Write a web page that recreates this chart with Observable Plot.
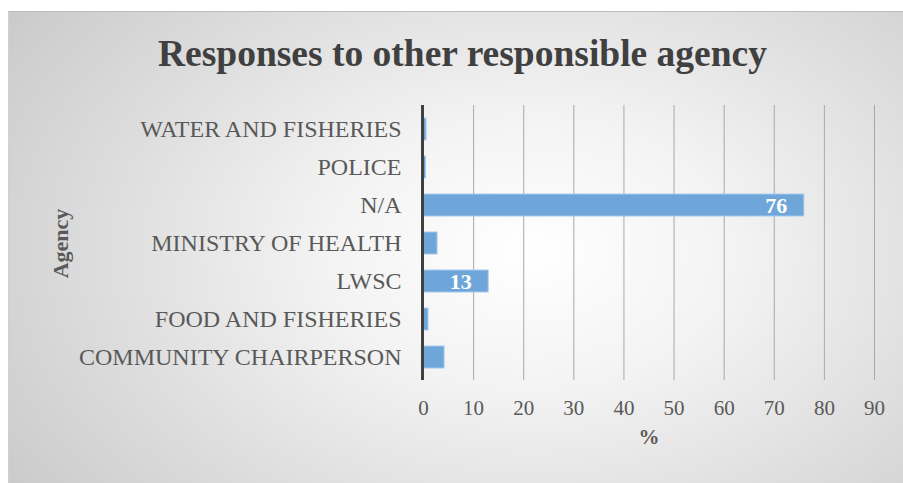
<!DOCTYPE html>
<html>
<head>
<meta charset="utf-8">
<script src="https://cdn.jsdelivr.net/npm/d3@7"></script>
<script src="https://cdn.jsdelivr.net/npm/@observablehq/plot@0.6"></script>
<style>
  html, body { margin: 0; padding: 0; background: #fff; }
  #wrap { position: relative; width: 903px; height: 483px; overflow: hidden; font-family: "Liberation Serif", "Times New Roman", serif; }
  #frame { position: absolute; left: 8px; top: 11px; width: 900px; height: 480px;
    border-left: 1px solid #d0d0d0; border-top: 1px solid #bdbdbd;
    background: radial-gradient(ellipse 75% 95% at 58% 50%, #ffffff 0%, #f3f3f3 30%, #dcdcdc 65%, #c6c6c6 100%); }
  #title { position: absolute; left: 0; width: 925px; top: 32px; text-align: center; font-weight: bold; font-size: 37.5px; color: #404040; }
  #chart { position: absolute; left: 0; top: 0; }
  #chart svg { background: transparent !important; }
  #chart [aria-label="y-axis label"] text, #chart [aria-label="x-axis label"] text { font-weight: bold; }
  #chart [aria-label="y-axis label"] text { font-size: 22px; }
</style>
</head>
<body>
<div id="wrap">
  <div id="frame"></div>
  <div id="title">Responses to other responsible agency</div>
  <div id="chart"></div>
</div>
<script>
const agencies = ["WATER AND FISHERIES", "POLICE", "N/A", "MINISTRY OF HEALTH", "LWSC", "FOOD AND FISHERIES", "COMMUNITY CHAIRPERSON"];
const percents = [0.6, 0.5, 76, 2.8, 13, 1, 4.2];
const labelled = ["N/A", "LWSC"];
const xTicks = [0, 10, 20, 30, 40, 50, 60, 70, 80, 90];

const data = agencies.map((a, i) => ({agency: a, value: percents[i]}));
const labelData = data.filter(d => labelled.includes(d.agency)).map(d => ({...d, text: String(Math.round(d.value))}));

const chart = Plot.plot({
  width: 903,
  height: 483,
  marginLeft: 423,
  marginRight: 29,
  marginTop: 107,
  marginBottom: 104,
  style: {fontFamily: "'Liberation Serif', 'Times New Roman', serif", fontSize: "20px", color: "#595959", background: "transparent"},
  x: {domain: [0, 90], ticks: xTicks},
  y: {domain: agencies, padding: 0},
  marks: [
    Plot.ruleX(xTicks.slice(1), {stroke: "#a8a8a8", strokeWidth: 1, insetTop: -2, insetBottom: -1}),
    Plot.barX(data, {y: "agency", x: "value", fill: "#6fa6da", stroke: "#a7c9ea", strokeWidth: 1, insetTop: 8, insetBottom: 8}),
    Plot.ruleX([0], {stroke: "#404040", strokeWidth: 3, dx: -1, insetTop: -2, insetBottom: -1}),
    Plot.text(labelData, {y: "agency", x: "value", text: "text", textAnchor: "end", dx: -17, fill: "white", fontWeight: "bold", fontSize: 22}),
    Plot.axisX({ticks: xTicks, tickSize: 0, tickPadding: 21, fontSize: 21, label: "%", labelAnchor: "center", labelArrow: "none", labelOffset: 64}),
    Plot.axisY({tickSize: 0, tickPadding: 22, fontSize: 24, label: "Agency", labelAnchor: "center", labelOffset: 371})
  ]
});
document.getElementById("chart").appendChild(chart);
</script>
</body>
</html>
